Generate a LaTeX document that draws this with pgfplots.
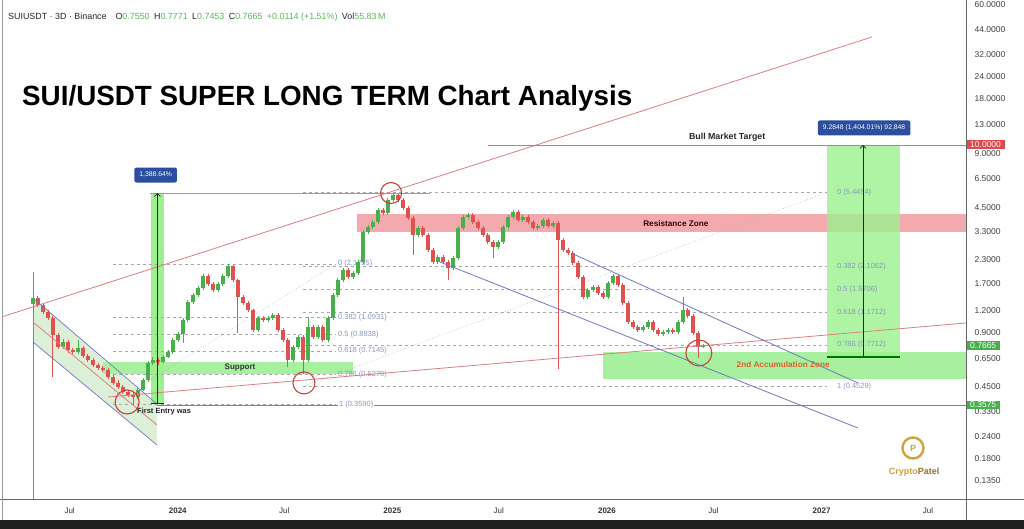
\documentclass[border=0pt]{standalone}
\usepackage{pgfplots}
\pgfplotsset{compat=1.18}
\usepackage{fontspec}
\setmainfont{Liberation Sans}
\usetikzlibrary{arrows.meta}
\definecolor{cgreen}{HTML}{47B04B}
\definecolor{cred}{HTML}{E0524F}
\definecolor{trendr}{HTML}{DB7F84}
\definecolor{chan}{HTML}{7377C2}
\definecolor{chanfill}{HTML}{DCF0D8}
\definecolor{zoneg}{HTML}{A6F0A0}
\definecolor{barg}{HTML}{9CF08E}
\definecolor{zoner}{HTML}{F3AAAE}
\definecolor{fibc}{HTML}{8A98BC}
\definecolor{dashc}{HTML}{A8A8A8}
\definecolor{boxblue}{HTML}{2B4F9E}
\definecolor{gold}{HTML}{D2A33A}
\definecolor{hgreen}{HTML}{5DB85F}
\definecolor{circc}{HTML}{C8423C}
\definecolor{axred}{HTML}{E0484E}
\definecolor{accum}{HTML}{E0602A}
\begin{document}
\begin{tikzpicture}
\useasboundingbox (0,0) rectangle (1024pt,529pt);
\fill[white] (0,0) rectangle (1024pt,529pt);
\begin{axis}[
  at={(3pt,30pt)}, anchor=south west,
  scale only axis, width=963pt, height=499pt,
  xmin=2023.1855, xmax=2027.673,
  ymode=log, ymin=0.1072, ymax=64.0,
  axis x line*=bottom, axis y line*=right,
  axis line style={draw=black!65, line width=0.6pt, -},
  xtick={2023.496,2024,2024.496,2025,2025.496,2026,2026.496,2027,2027.496},
  xticklabels={Jul,\textbf{2024},Jul,\textbf{2025},Jul,\textbf{2026},Jul,\textbf{2027},Jul},
  ytick={60,44,32,24,18,13,9,6.5,4.5,3.3,2.3,1.7,1.2,0.9,0.65,0.45,0.33,0.24,0.18,0.135},
  yticklabels={60.0000,44.0000,32.0000,24.0000,18.0000,13.0000,9.0000,6.5000,4.5000,3.3000,2.3000,1.7000,1.2000,0.9000,0.6500,0.4500,0.3300,0.2400,0.1800,0.1350},
  yminorticks=false, xminorticks=false,
  major tick length=0pt,
  yticklabel style={font=\fontsize{8.5}{10}\selectfont, text=black!75, anchor=west, xshift=5pt},
  xticklabel style={font=\fontsize{8}{10}\selectfont, text=black!80, yshift=-5pt},
  clip mode=individual,
  unbounded coords=jump,
]
% ---- zones ----
\fill[chanfill] (axis cs:2023.325,1.4071) -- (axis cs:2023.903,0.3620) -- (axis cs:2023.903,0.2141) -- (axis cs:2023.325,0.8009) -- cycle;
\fill[zoneg] (axis cs:2023.651,0.5316) rectangle (axis cs:2024.816,0.620);
\fill[zoner] (axis cs:2024.836,3.277) rectangle (axis cs:2027.673,4.127);
\fill[zoneg] (axis cs:2025.981,0.4986) rectangle (axis cs:2027.673,0.705);
\fill[barg] (axis cs:2023.875,0.365) rectangle (axis cs:2023.936,5.40);
\fill[barg, opacity=0.8] (axis cs:2027.025,0.662) rectangle (axis cs:2027.365,10);
% ---- fib levels ----
\foreach \v in {2.1755,1.0931,0.8838,0.7145,0.5279,0.3590}{
  \edef\tmp{\noexpand\draw[dashc, dash pattern=on 3pt off 3pt, line width=0.6pt] (axis cs:2023.698,\v) -- (axis cs:2024.737,\v);}\tmp}
\foreach \v in {5.4454,2.1062,1.5706,1.1712,0.7712,0.4529}{
  \edef\tmp{\noexpand\draw[dashc, dash pattern=on 3pt off 3pt, line width=0.6pt] (axis cs:2024.583,\v) -- (axis cs:2027.025,\v);}\tmp}
\draw[cgreen, line width=0.8pt] (axis cs:2023.903,0.3575) -- (axis cs:2027.673,0.3575);
\begin{scope}[every node/.style={anchor=west, inner sep=0pt, text=fibc, font=\fontsize{7.5}{9}\selectfont}]
\node at (axis cs:2024.746,2.1755) {0 (2.1755)};
\node at (axis cs:2024.746,1.0931) {0.382 (1.0931)};
\node at (axis cs:2024.746,0.8838) {0.5 (0.8838)};
\node at (axis cs:2024.746,0.7145) {0.618 (0.7145)};
\node at (axis cs:2024.746,0.5279) {0.786 (0.5279)};
\node[fill=white, inner xsep=1pt] at (axis cs:2024.746,0.3590) {1 (0.3590)};
\node at (axis cs:2027.071,5.4454) {0 (5.4454)};
\node at (axis cs:2027.071,2.1062) {0.382 (2.1062)};
\node at (axis cs:2027.071,1.5706) {0.5 (1.5706)};
\node at (axis cs:2027.071,1.1712) {0.618 (1.1712)};
\node at (axis cs:2027.071,0.7712) {0.786 (0.7712)};
\node at (axis cs:2027.071,0.4529) {1 (0.4529)};
\end{scope}
\draw[black!30, dotted, line width=0.6pt] (axis cs:2023.698,0.3666) -- (axis cs:2024.737,2.1755);
\draw[black!30, dotted, line width=0.6pt] (axis cs:2024.583,0.4529) -- (axis cs:2027.025,5.4454);
% ---- candles: wicks ----
\addplot[cgreen, line width=0.8pt, no marks] table[row sep=\\] {x y\\
2023.325 0.10\\2023.325 1.96\\nan nan\\2023.465 0.73\\2023.465 0.83\\nan nan\\2023.535 0.69\\2023.535 0.822\\nan nan\\
2023.814 0.385\\2023.814 0.445\\nan nan\\2023.838 0.425\\2023.838 0.505\\nan nan\\2023.861 0.48\\2023.861 0.63\\nan nan\\
2023.884 0.60\\2023.884 0.66\\nan nan\\2023.931 0.61\\2023.931 0.68\\nan nan\\2023.954 0.65\\2023.954 0.725\\nan nan\\
2023.977 0.69\\2023.977 0.845\\nan nan\\2024.001 0.80\\2024.001 0.91\\nan nan\\2024.024 0.79\\2024.024 1.09\\nan nan\\
2024.047 1.04\\2024.047 1.37\\nan nan\\2024.071 1.30\\2024.071 1.50\\nan nan\\2024.094 1.43\\2024.094 1.64\\nan nan\\
2024.117 1.56\\2024.117 1.91\\nan nan\\2024.187 1.52\\2024.187 1.72\\nan nan\\2024.210 1.64\\2024.210 1.91\\nan nan\\
2024.234 1.82\\2024.234 2.176\\nan nan\\2024.374 0.91\\2024.374 1.12\\nan nan\\2024.420 1.04\\2024.420 1.12\\nan nan\\
2024.443 1.06\\2024.443 1.16\\nan nan\\2024.537 0.62\\2024.537 0.77\\nan nan\\2024.560 0.735\\2024.560 0.875\\nan nan\\
2024.607 0.62\\2024.607 1.104\\nan nan\\2024.653 0.835\\2024.653 0.995\\nan nan\\2024.700 0.80\\2024.700 1.12\\nan nan\\
2024.723 1.065\\2024.723 1.50\\nan nan\\2024.746 1.43\\2024.746 1.82\\nan nan\\2024.770 1.73\\2024.770 2.07\\nan nan\\
2024.816 1.80\\2024.816 1.99\\nan nan\\2024.840 1.89\\2024.840 2.29\\nan nan\\2024.863 2.18\\2024.863 3.36\\nan nan\\
2024.886 3.20\\2024.886 3.58\\nan nan\\2024.909 3.41\\2024.909 3.82\\nan nan\\2024.933 3.64\\2024.933 4.45\\nan nan\\
2024.979 4.08\\2024.979 5.06\\nan nan\\2025.003 4.82\\2025.003 5.40\\nan nan\\2025.119 3.08\\2025.119 3.54\\nan nan\\
2025.212 2.18\\2025.212 2.44\\nan nan\\2025.282 2.02\\2025.282 2.41\\nan nan\\2025.306 2.29\\2025.306 3.54\\nan nan\\
2025.329 3.37\\2025.329 4.07\\nan nan\\2025.352 3.88\\2025.352 4.18\\nan nan\\2025.492 2.64\\2025.492 2.96\\nan nan\\
2025.515 2.81\\2025.515 3.58\\nan nan\\2025.539 3.41\\2025.539 4.07\\nan nan\\2025.562 3.88\\2025.562 4.34\\nan nan\\
2025.608 3.73\\2025.608 4.07\\nan nan\\2025.678 3.37\\2025.678 3.63\\nan nan\\2025.702 3.45\\2025.702 3.92\\nan nan\\
2025.748 3.45\\2025.748 3.77\\nan nan\\2025.911 1.39\\2025.911 1.60\\nan nan\\2025.935 1.52\\2025.935 1.66\\nan nan\\
2026.005 1.39\\2026.005 1.75\\nan nan\\2026.028 1.66\\2026.028 1.91\\nan nan\\2026.168 0.91\\2026.168 0.995\\nan nan\\
2026.191 0.95\\2026.191 1.06\\nan nan\\2026.261 0.865\\2026.261 0.935\\nan nan\\2026.284 0.89\\2026.284 0.955\\nan nan\\
2026.331 0.89\\2026.331 1.06\\nan nan\\2026.354 1.01\\2026.354 1.425\\nan nan\\2026.447 0.7453\\2026.447 0.7771\\nan nan\\
};
\addplot[cred, line width=0.8pt, no marks] table[row sep=\\] {x y\\
2023.348 1.25\\2023.348 1.44\\nan nan\\2023.372 1.14\\2023.372 1.32\\nan nan\\2023.395 1.06\\2023.395 1.21\\nan nan\\
2023.418 0.512\\2023.418 1.12\\nan nan\\2023.442 0.73\\2023.442 0.90\\nan nan\\2023.488 0.70\\2023.488 0.82\\nan nan\\
2023.511 0.685\\2023.511 0.745\\nan nan\\2023.558 0.65\\2023.558 0.76\\nan nan\\2023.581 0.62\\2023.581 0.69\\nan nan\\
2023.605 0.58\\2023.605 0.655\\nan nan\\2023.628 0.56\\2023.628 0.615\\nan nan\\2023.651 0.545\\2023.651 0.59\\nan nan\\
2023.675 0.50\\2023.675 0.575\\nan nan\\2023.698 0.46\\2023.698 0.525\\nan nan\\2023.721 0.44\\2023.721 0.49\\nan nan\\
2023.744 0.41\\2023.744 0.46\\nan nan\\2023.768 0.395\\2023.768 0.435\\nan nan\\2023.791 0.3575\\2023.791 0.42\\nan nan\\
2023.908 0.60\\2023.908 0.655\\nan nan\\2024.141 1.64\\2024.141 1.91\\nan nan\\2024.164 1.52\\2024.164 1.72\\nan nan\\
2024.257 1.73\\2024.257 2.16\\nan nan\\2024.280 0.899\\2024.280 1.80\\nan nan\\2024.304 1.29\\2024.304 1.46\\nan nan\\
2024.327 1.18\\2024.327 1.35\\nan nan\\2024.350 0.91\\2024.350 1.23\\nan nan\\2024.397 1.04\\2024.397 1.12\\nan nan\\
2024.467 0.91\\2024.467 1.16\\nan nan\\2024.490 0.80\\2024.490 0.955\\nan nan\\2024.513 0.582\\2024.513 0.84\\nan nan\\
2024.583 0.53\\2024.583 0.875\\nan nan\\2024.630 0.835\\2024.630 0.995\\nan nan\\2024.676 0.80\\2024.676 0.995\\nan nan\\
2024.793 1.80\\2024.793 2.07\\nan nan\\2024.956 4.08\\2024.956 4.45\\nan nan\\2025.026 4.82\\2025.026 5.37\\nan nan\\
2025.049 4.35\\2025.049 5.06\\nan nan\\2025.073 3.83\\2025.073 4.57\\nan nan\\2025.096 2.441\\2025.096 4.02\\nan nan\\
2025.142 3.08\\2025.142 3.54\\nan nan\\2025.166 2.54\\2025.166 3.23\\nan nan\\2025.189 2.18\\2025.189 2.67\\nan nan\\
2025.236 2.18\\2025.236 2.44\\nan nan\\2025.259 1.772\\2025.259 2.29\\nan nan\\2025.375 3.64\\2025.375 4.18\\nan nan\\
2025.399 3.37\\2025.399 3.82\\nan nan\\2025.422 3.08\\2025.422 3.54\\nan nan\\2025.445 2.81\\2025.445 3.23\\nan nan\\
2025.469 2.349\\2025.469 2.96\\nan nan\\2025.585 3.73\\2025.585 4.34\\nan nan\\2025.632 3.64\\2025.632 4.07\\nan nan\\
2025.655 3.37\\2025.655 3.82\\nan nan\\2025.725 3.45\\2025.725 3.92\\nan nan\\2025.772 0.567\\2025.772 3.77\\nan nan\\
2025.795 2.54\\2025.795 3.03\\nan nan\\2025.818 2.44\\2025.818 2.67\\nan nan\\2025.841 2.15\\2025.841 2.57\\nan nan\\
2025.865 1.80\\2025.865 2.26\\nan nan\\2025.888 1.39\\2025.888 1.89\\nan nan\\2025.958 1.46\\2025.958 1.66\\nan nan\\
2025.981 1.39\\2025.981 1.54\\nan nan\\2026.051 1.62\\2026.051 1.91\\nan nan\\2026.074 1.29\\2026.074 1.70\\nan nan\\
2026.098 1.01\\2026.098 1.35\\nan nan\\2026.121 0.95\\2026.121 1.06\\nan nan\\2026.144 0.91\\2026.144 0.995\\nan nan\\
2026.214 0.91\\2026.214 1.06\\nan nan\\2026.238 0.865\\2026.238 0.955\\nan nan\\2026.307 0.89\\2026.307 0.955\\nan nan\\
2026.377 1.09\\2026.377 1.24\\nan nan\\2026.401 0.88\\2026.401 1.145\\nan nan\\2026.424 0.653\\2026.424 0.92\\nan nan\\
};
% ---- candles: bodies ----
\addplot[cgreen, line width=3.6pt, no marks] table[row sep=\\] {x y\\
2023.325 1.30\\2023.325 1.40\\nan nan\\2023.465 0.752\\2023.465 0.801\\nan nan\\2023.535 0.705\\2023.535 0.742\\nan nan\\
2023.814 0.396\\2023.814 0.433\\nan nan\\2023.838 0.433\\2023.838 0.492\\nan nan\\2023.861 0.492\\2023.861 0.612\\nan nan\\
2023.884 0.612\\2023.884 0.636\\nan nan\\2023.931 0.620\\2023.931 0.662\\nan nan\\2023.954 0.662\\2023.954 0.705\\nan nan\\
2023.977 0.705\\2023.977 0.822\\nan nan\\2024.001 0.822\\2024.001 0.887\\nan nan\\2024.024 0.887\\2024.024 1.062\\nan nan\\
2024.047 1.062\\2024.047 1.337\\nan nan\\2024.071 1.337\\2024.071 1.462\\nan nan\\2024.094 1.462\\2024.094 1.599\\nan nan\\
2024.117 1.599\\2024.117 1.865\\nan nan\\2024.187 1.559\\2024.187 1.683\\nan nan\\2024.210 1.683\\2024.210 1.865\\nan nan\\
2024.234 1.865\\2024.234 2.120\\nan nan\\2024.374 0.934\\2024.374 1.090\\nan nan\\2024.420 1.062\\2024.420 1.090\\nan nan\\
2024.443 1.090\\2024.443 1.132\\nan nan\\2024.537 0.636\\2024.537 0.752\\nan nan\\2024.560 0.752\\2024.560 0.854\\nan nan\\
2024.607 0.636\\2024.607 0.972\\nan nan\\2024.653 0.854\\2024.653 0.972\\nan nan\\2024.700 0.822\\2024.700 1.090\\nan nan\\
2024.723 1.090\\2024.723 1.462\\nan nan\\2024.746 1.462\\2024.746 1.772\\nan nan\\2024.770 1.772\\2024.770 2.014\\nan nan\\
2024.816 1.841\\2024.816 1.938\\nan nan\\2024.840 1.938\\2024.840 2.231\\nan nan\\2024.863 2.231\\2024.863 3.277\\nan nan\\
2024.886 3.277\\2024.886 3.494\\nan nan\\2024.909 3.494\\2024.909 3.725\\nan nan\\2024.933 3.725\\2024.933 4.344\\nan nan\\
2024.979 4.180\\2024.979 4.937\\nan nan\\2025.003 4.937\\2025.003 5.264\\nan nan\\2025.119 3.153\\2025.119 3.449\\nan nan\\
2025.212 2.231\\2025.212 2.379\\nan nan\\2025.282 2.066\\2025.282 2.349\\nan nan\\2025.306 2.349\\2025.306 3.449\\nan nan\\
2025.329 3.449\\2025.329 3.971\\nan nan\\2025.352 3.971\\2025.352 4.074\\nan nan\\2025.492 2.704\\2025.492 2.883\\nan nan\\
2025.515 2.883\\2025.515 3.494\\nan nan\\2025.539 3.494\\2025.539 3.971\\nan nan\\2025.562 3.971\\2025.562 4.234\\nan nan\\
2025.608 3.822\\2025.608 3.971\\nan nan\\2025.678 3.449\\2025.678 3.539\\nan nan\\2025.702 3.539\\2025.702 3.822\\nan nan\\
2025.748 3.539\\2025.748 3.677\\nan nan\\2025.911 1.425\\2025.911 1.559\\nan nan\\2025.935 1.559\\2025.935 1.619\\nan nan\\
2026.005 1.425\\2026.005 1.705\\nan nan\\2026.028 1.705\\2026.028 1.865\\nan nan\\2026.168 0.934\\2026.168 0.972\\nan nan\\
2026.191 0.972\\2026.191 1.035\\nan nan\\2026.261 0.887\\2026.261 0.910\\nan nan\\2026.284 0.910\\2026.284 0.934\\nan nan\\
2026.331 0.910\\2026.331 1.035\\nan nan\\2026.354 1.035\\2026.354 1.207\\nan nan\\2026.447 0.755\\2026.447 0.7665\\nan nan\\
};
\addplot[cred, line width=3.6pt, no marks] table[row sep=\\] {x y\\
2023.348 1.40\\2023.348 1.287\\nan nan\\2023.372 1.287\\2023.372 1.176\\nan nan\\2023.395 1.176\\2023.395 1.090\\nan nan\\
2023.418 1.090\\2023.418 0.876\\nan nan\\2023.442 0.876\\2023.442 0.752\\nan nan\\2023.488 0.801\\2023.488 0.723\\nan nan\\
2023.511 0.723\\2023.511 0.705\\nan nan\\2023.558 0.742\\2023.558 0.670\\nan nan\\2023.581 0.670\\2023.581 0.636\\nan nan\\
2023.605 0.636\\2023.605 0.597\\nan nan\\2023.628 0.597\\2023.628 0.574\\nan nan\\2023.651 0.574\\2023.651 0.559\\nan nan\\
2023.675 0.559\\2023.675 0.512\\nan nan\\2023.698 0.512\\2023.698 0.474\\nan nan\\2023.721 0.474\\2023.721 0.450\\nan nan\\
2023.744 0.450\\2023.744 0.422\\nan nan\\2023.768 0.422\\2023.768 0.406\\nan nan\\2023.791 0.406\\2023.791 0.396\\nan nan\\
2023.908 0.636\\2023.908 0.620\\nan nan\\2024.141 1.865\\2024.141 1.683\\nan nan\\2024.164 1.683\\2024.164 1.559\\nan nan\\
2024.257 2.120\\2024.257 1.772\\nan nan\\2024.280 1.772\\2024.280 1.425\\nan nan\\2024.304 1.425\\2024.304 1.320\\nan nan\\
2024.327 1.320\\2024.327 1.207\\nan nan\\2024.350 1.207\\2024.350 0.934\\nan nan\\2024.397 1.090\\2024.397 1.062\\nan nan\\
2024.467 1.132\\2024.467 0.934\\nan nan\\2024.490 0.934\\2024.490 0.822\\nan nan\\2024.513 0.822\\2024.513 0.636\\nan nan\\
2024.583 0.854\\2024.583 0.636\\nan nan\\2024.630 0.972\\2024.630 0.854\\nan nan\\2024.676 0.972\\2024.676 0.822\\nan nan\\
2024.793 2.014\\2024.793 1.841\\nan nan\\2024.956 4.344\\2024.956 4.180\\nan nan\\2025.026 5.264\\2025.026 4.937\\nan nan\\
2025.049 4.937\\2025.049 4.457\\nan nan\\2025.073 4.457\\2025.073 3.921\\nan nan\\2025.096 3.921\\2025.096 3.153\\nan nan\\
2025.142 3.449\\2025.142 3.153\\nan nan\\2025.166 3.153\\2025.166 2.602\\nan nan\\2025.189 2.602\\2025.189 2.231\\nan nan\\
2025.236 2.379\\2025.236 2.231\\nan nan\\2025.259 2.231\\2025.259 2.066\\nan nan\\2025.375 4.074\\2025.375 3.725\\nan nan\\
2025.399 3.725\\2025.399 3.449\\nan nan\\2025.422 3.449\\2025.422 3.153\\nan nan\\2025.445 3.153\\2025.445 2.883\\nan nan\\
2025.469 2.883\\2025.469 2.704\\nan nan\\2025.585 4.234\\2025.585 3.822\\nan nan\\2025.632 3.971\\2025.632 3.725\\nan nan\\
2025.655 3.725\\2025.655 3.449\\nan nan\\2025.725 3.822\\2025.725 3.539\\nan nan\\2025.772 3.677\\2025.772 2.958\\nan nan\\
2025.795 2.958\\2025.795 2.602\\nan nan\\2025.818 2.602\\2025.818 2.503\\nan nan\\2025.841 2.503\\2025.841 2.203\\nan nan\\
2025.865 2.203\\2025.865 1.841\\nan nan\\2025.888 1.841\\2025.888 1.425\\nan nan\\2025.958 1.619\\2025.958 1.500\\nan nan\\
2025.981 1.500\\2025.981 1.425\\nan nan\\2026.051 1.865\\2026.051 1.662\\nan nan\\2026.074 1.662\\2026.074 1.320\\nan nan\\
2026.098 1.320\\2026.098 1.035\\nan nan\\2026.121 1.035\\2026.121 0.972\\nan nan\\2026.144 0.972\\2026.144 0.934\\nan nan\\
2026.214 1.035\\2026.214 0.934\\nan nan\\2026.238 0.934\\2026.238 0.887\\nan nan\\2026.307 0.934\\2026.307 0.910\\nan nan\\
2026.377 1.207\\2026.377 1.118\\nan nan\\2026.401 1.118\\2026.401 0.899\\nan nan\\2026.424 0.899\\2026.424 0.755\\nan nan\\
};
% ---- trend lines and channels ----
\draw[trendr, line width=0.8pt] (axis cs:2023.1855,1.110) -- (axis cs:2027.2345,39.83);
\draw[trendr, line width=0.8pt] (axis cs:2023.675,0.396) -- (axis cs:2027.673,1.022);
\draw[trendr, line width=0.8pt] (axis cs:2023.870,5.40) -- (axis cs:2025.175,5.40);
\draw[axred!80, line width=0.8pt] (axis cs:2025.446,10) -- (axis cs:2027.673,10);
\draw[chan, line width=0.7pt] (axis cs:2023.325,1.4071) -- (axis cs:2023.903,0.3620);
\draw[chan, line width=0.7pt] (axis cs:2023.325,0.8009) -- (axis cs:2023.903,0.2141);
\draw[trendr, line width=0.8pt] (axis cs:2023.325,1.035) -- (axis cs:2023.903,0.2766);
\draw[chan, line width=0.8pt] (axis cs:2025.842,2.472) -- (axis cs:2027.169,0.474);
\draw[chan, line width=0.8pt] (axis cs:2025.222,2.231) -- (axis cs:2027.169,0.2662);
% ---- measure arrows ----
\draw[black!85, line width=0.9pt] (axis cs:2023.875,0.365) -- (axis cs:2023.936,0.365);
\draw[black!85, line width=0.7pt, -{Straight Barb[length=3pt,width=6pt]}] (axis cs:2023.905,0.365) -- (axis cs:2023.905,5.40);
\draw[green!45!black, line width=1.3pt] (axis cs:2027.025,0.662) -- (axis cs:2027.365,0.662);
\draw[black!85, line width=0.7pt, -{Straight Barb[length=3pt,width=6pt]}] (axis cs:2027.193,0.662) -- (axis cs:2027.193,10);
\node[fill=boxblue, rounded corners=2pt, text=white, font=\fontsize{6.8}{8}\selectfont, inner xsep=5pt, minimum height=15pt] at (axis cs:2023.897,6.80) {1,388.64\%};
\node[fill=boxblue, rounded corners=2pt, text=white, font=\fontsize{6.8}{8}\selectfont, inner xsep=5pt, minimum height=15pt] at (axis cs:2027.198,12.42) {9.2848 (1,404.01\%) 92,848};
% ---- circles ----
\draw[circc, line width=1.1pt] (axis cs:2023.764,0.3715) circle[radius=12pt];
\draw[circc, line width=1.1pt] (axis cs:2024.588,0.474) circle[radius=11pt];
\draw[circc, line width=1.1pt] (axis cs:2024.994,5.40) circle[radius=10.5pt];
\draw[circc, line width=1.1pt] (axis cs:2026.428,0.696) circle[radius=13pt];
% ---- texts ----
\node[font=\bfseries\fontsize{8}{9}\selectfont, text=black!80] at (axis cs:2024.290,0.574) {Support};
\node[font=\bfseries\fontsize{7.5}{9}\selectfont, text=black!85] at (axis cs:2023.936,0.3267) {First Entry was};
\node[font=\bfseries\fontsize{8.2}{9}\selectfont, text=black!75!red] at (axis cs:2026.321,3.631) {Resistance Zone};
\node[font=\bfseries\fontsize{8.8}{10}\selectfont, text=black!85] at (axis cs:2026.560,11.07) {Bull Market Target};
\node[font=\bfseries\fontsize{8.2}{9}\selectfont, text=accum] at (axis cs:2026.821,0.597) {2nd Accumulation Zone};
\node[anchor=base west, inner sep=0pt, font=\bfseries\fontsize{27.8}{30}\selectfont] at (axis cs:2023.274,16.46) {SUI/USDT SUPER LONG TERM Chart Analysis};
\node[anchor=base west, inner sep=0pt, font=\fontsize{8.9}{10}\selectfont, text=black!85] at (axis cs:2023.2088,50.16) {SUIUSDT · 3D · Binance\quad O\textcolor{hgreen}{0.7550}\enspace H\textcolor{hgreen}{0.7771}\enspace L\textcolor{hgreen}{0.7453}\enspace C\textcolor{hgreen}{0.7665}\enspace \textcolor{hgreen}{+0.0114 (+1.51\%)}\enspace Vol\textcolor{hgreen}{55.83\,M}};
% ---- logo ----
\draw[gold, line width=2.4pt] (axis cs:2027.426,0.2060) circle[radius=10.5pt];
\node[font=\bfseries\fontsize{9}{10}\selectfont, text=gold] at (axis cs:2027.426,0.2060) {P};
\node[font=\bfseries\fontsize{9}{10}\selectfont] at (axis cs:2027.431,0.1515) {\textcolor{gold}{Crypto}\textcolor{gold!70!black}{Patel}};
% ---- right axis badges ----
\node[anchor=west, fill=axred, text=white, inner xsep=4pt, inner ysep=1.5pt, font=\fontsize{8.5}{10}\selectfont] at (axis cs:2027.673,10) {10.0000};
\node[anchor=west, fill=cgreen, text=white, inner xsep=4pt, inner ysep=1.5pt, font=\fontsize{8.5}{10}\selectfont] at (axis cs:2027.673,0.7665) {0.7665};
\node[anchor=west, fill=cgreen, text=white, inner xsep=4pt, inner ysep=1.2pt, font=\fontsize{8.5}{10}\selectfont] at (axis cs:2027.673,0.3575) {0.3575};
\end{axis}
\fill[black!88] (0,0) rectangle (1024pt,9pt);
\draw[black!60, line width=0.6pt] (0,30pt) -- (1024pt,30pt);
\draw[black!60, line width=0.6pt] (966pt,9pt) -- (966pt,529pt);
\draw[black!40, line width=0.6pt] (2.5pt,9pt) -- (2.5pt,529pt);
\end{tikzpicture}
\end{document}
